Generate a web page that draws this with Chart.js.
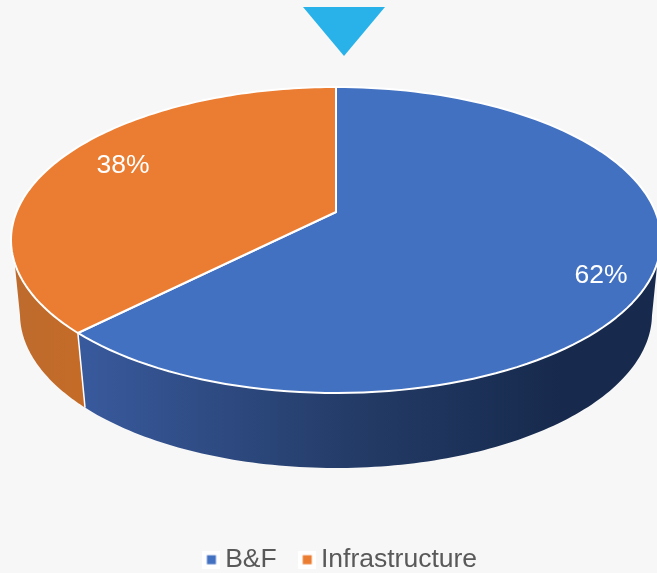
<!DOCTYPE html>
<html>
<head>
<meta charset="utf-8">
<style>
  html, body { margin: 0; padding: 0; background: #f7f7f7; }
  canvas { display: block; }
</style>
<script src="https://cdn.jsdelivr.net/npm/chart.js@4"></script>
</head>
<body>
<canvas id="pie" width="657" height="573"></canvas>
<script>
const categories = ['B&F', 'Infrastructure'];
const shares = [62.4, 37.6];
const sliceColors = ['#4371c2', '#eb7d32'];

// top face and bottom rim of the disc, in pixels
const topFace = { x: 336, y: 240, rx: 325, ry: 153 };
const bottomRim = { x: 336, y: 314, rx: 316, ry: 154 };
const tilt = -0.183; // pushes the slice apex up, fake perspective
const labelSpots = [[601, 276], [123, 166]];

function project(angle, face) {
    const u = Math.cos(angle), v = Math.sin(angle);
    const w = 1 + tilt * v;
    return [
        face.x + face.rx * u * Math.sqrt(1 - tilt * tilt) / w,
        face.y + face.ry * (v + tilt) / w
    ];
}

function walk(ctx, from, to, face) {
    const steps = 120;
    for (let i = 0; i <= steps; i++) {
        const p = project(from + (to - from) * i / steps, face);
        ctx.lineTo(p[0], p[1]);
    }
}

const rad = d => d * Math.PI / 180;

function wallGradient(ctx, i) {
    const g = ctx.createLinearGradient(i === 0 ? 85 : 13, 0, i === 0 ? 560 : 85, 0);
    if (i === 0) {
        g.addColorStop(0, '#38599c');
        g.addColorStop(0.55, '#243c68');
        g.addColorStop(1, '#172a4d');
    } else {
        g.addColorStop(0, '#bd6b2e');
        g.addColorStop(1, '#c56b27');
    }
    return g;
}

// legend marker: small colour square on a white tile
function legendMarker(color) {
    const c = document.createElement('canvas');
    c.width = 18;
    c.height = 18;
    const m = c.getContext('2d');
    m.fillStyle = '#ffffff';
    m.fillRect(0, 0, 18, 18);
    m.fillStyle = color;
    m.fillRect(4.5, 4.5, 9, 9);
    return c;
}

const disc3d = {
    id: 'disc3d',
    beforeDatasetDraw(chart, args) {
        const ctx = chart.ctx;
        const arcs = args.meta.data;
        ctx.save();

        // marker above the pie
        ctx.fillStyle = '#29b2e9';
        ctx.beginPath();
        ctx.moveTo(303, 7);
        ctx.lineTo(385, 7);
        ctx.lineTo(344, 56);
        ctx.closePath();
        ctx.fill();

        // side wall, front part only
        arcs.forEach((arc, i) => {
            const topFrom = Math.max(arc.startAngle, rad(18.9));
            const topTo = Math.min(arc.endAngle, rad(161.1));
            const botFrom = Math.max(arc.startAngle, rad(11.1));
            const botTo = Math.min(arc.endAngle, rad(168.9));
            ctx.beginPath();
            walk(ctx, topFrom, topTo, topFace);
            walk(ctx, botTo, botFrom, bottomRim);
            ctx.closePath();
            ctx.fillStyle = wallGradient(ctx, i);
            ctx.fill();
        });

        // white seam on the wall
        arcs.slice(1).forEach(arc => {
            const a = project(arc.startAngle, topFace);
            const b = project(arc.startAngle, bottomRim);
            ctx.strokeStyle = '#ffffff';
            ctx.lineWidth = 1.5;
            ctx.beginPath();
            ctx.moveTo(a[0], a[1]);
            ctx.lineTo(b[0], b[1]);
            ctx.stroke();
        });

        // top face
        const apex = [topFace.x, topFace.y + topFace.ry * tilt];
        arcs.forEach((arc, i) => {
            ctx.beginPath();
            ctx.moveTo(apex[0], apex[1]);
            walk(ctx, arc.startAngle, arc.endAngle, topFace);
            ctx.closePath();
            ctx.fillStyle = sliceColors[i];
            ctx.fill();
            ctx.strokeStyle = '#ffffff';
            ctx.lineWidth = 2;
            ctx.lineJoin = 'round';
            ctx.stroke();
        });

        // percent labels
        ctx.fillStyle = '#ffffff';
        ctx.font = '26.5px "Liberation Sans"';
        ctx.textAlign = 'center';
        ctx.textBaseline = 'middle';
        shares.forEach((s, i) => {
            ctx.fillText(Math.round(s) + '%', labelSpots[i][0], labelSpots[i][1]);
        });

        ctx.restore();
        return false;
    }
};

new Chart(document.getElementById('pie'), {
    type: 'pie',
    data: {
        labels: categories,
        datasets: [{ data: shares, backgroundColor: sliceColors }]
    },
    options: {
        responsive: false,
        animation: false,
        layout: { padding: { left: 31, bottom: -10 } },
        plugins: {
            tooltip: { enabled: false },
            legend: {
                position: 'bottom',
                padding: 0,
                labels: {
                    usePointStyle: true,
                    boxWidth: 1,
                    boxHeight: 1,
                    padding: 30,
                    font: { family: 'Liberation Sans', size: 26.5 },
                    generateLabels: () => categories.map((name, i) => ({
                        text: name,
                        fontColor: '#595959',
                        pointStyle: legendMarker(sliceColors[i]),
                        index: i
                    }))
                }
            }
        }
    },
    plugins: [disc3d]
});
</script>
</body>
</html>
